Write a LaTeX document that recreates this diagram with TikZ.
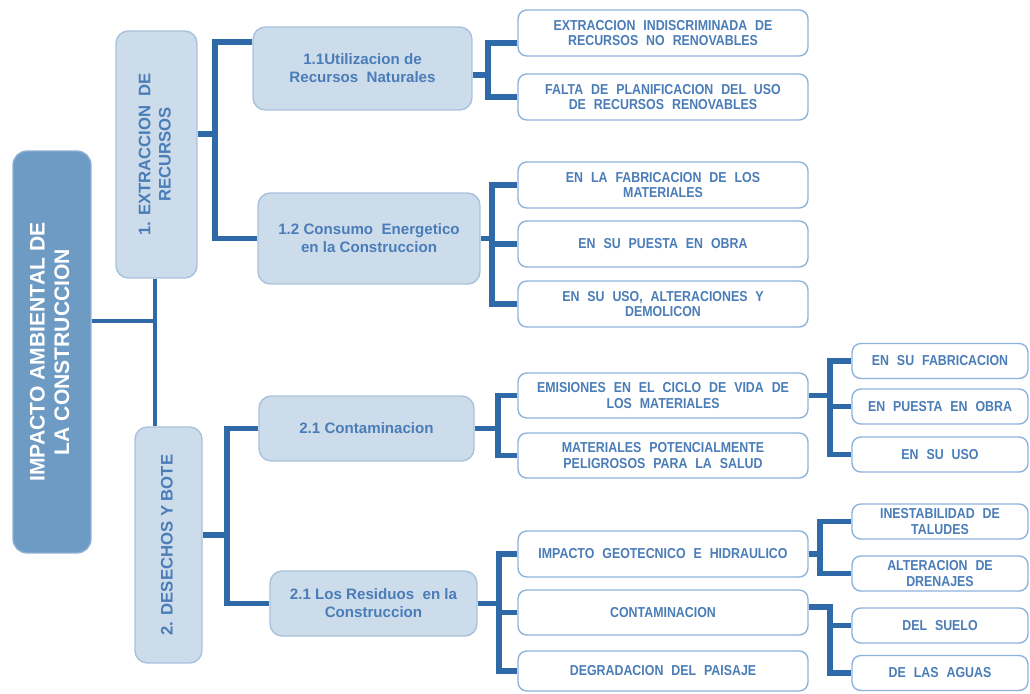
\documentclass[tikz,border=0pt]{standalone}
\usepackage{fontspec}
\setmainfont{Liberation Sans}
\newfontfamily\narrowfont{Liberation Sans}[FakeStretch=0.86]
\usepackage{graphicx}
\usepackage{xcolor}
\usepackage{tikz}
\usetikzlibrary{calc}

\definecolor{rootblue}{HTML}{6E9BC4}
\definecolor{rootedge}{HTML}{8DB0D3}
\definecolor{paleblue}{HTML}{CDDCEB}
\definecolor{paleedge}{HTML}{A7C1DD}
\definecolor{textblue}{HTML}{4A7DB8}
\definecolor{leafedge}{HTML}{8DB3DC}
\definecolor{linkblue}{HTML}{2E6AA8}

\newcommand{\leaffont}{\narrowfont\bfseries\fontsize{8.2}{9}\selectfont\spaceskip=0.55em plus 0.1em\relax}
\newcommand{\vtext}[1]{\rotatebox{90}{\begin{tabular}{@{}c@{}}#1\end{tabular}}}

\tikzset{
	rootnode/.style={rectangle, rounded corners=8pt, fill=rootblue, draw=rootedge, thick, text=white, inner sep=0pt, minimum width=1.56cm, minimum height=8.04cm, font=\bfseries\fontsize{12}{14}\selectfont},
	mainnode/.style={rectangle, rounded corners=7pt, fill=paleblue, draw=paleedge, thick, text=textblue, inner sep=0pt, font=\bfseries\fontsize{9.5}{11.5}\selectfont},
	subnode/.style={rectangle, rounded corners=7pt, fill=paleblue, draw=paleedge, thick, text=textblue, inner sep=0pt, align=center, font=\bfseries\fontsize{8.6}{10.2}\selectfont},
	leafnode/.style={rectangle, rounded corners=5pt, fill=white, draw=leafedge, thick, text=textblue, inner sep=0pt, align=center, minimum width=5.8cm, minimum height=0.92cm, font=\leaffont},
	smallleaf/.style={leafnode, minimum width=3.52cm, minimum height=0.70cm},
	link/.style={draw=linkblue, line width=3.3pt},
	trunk/.style={draw=linkblue, line width=2.5pt}
}

\begin{document}
\begin{tikzpicture}[x=0.02cm, y=-0.02cm]
	\useasboundingbox (0,0) rectangle (1030,693);
	
	\node[rootnode] at (52,352) (root) {\vtext{IMPACTO AMBIENTAL DE\\LA CONSTRUCCION}};
	\node[mainnode, minimum width=1.62cm, minimum height=4.94cm] at (156.5,154.5) (extr) {\vtext{1. EXTRACCION\ \ DE\\RECURSOS}};
	\node[mainnode, minimum width=1.34cm, minimum height=4.72cm] at (168.5,545) (dese) {\vtext{2. DESECHOS Y BOTE}};
	
	\node[subnode, minimum width=4.38cm, minimum height=1.66cm] at (362.5,68.5) (util) {1.1Utilizacion de\\Recursos\ \ Naturales};
	\node[subnode, minimum width=4.44cm, minimum height=1.82cm] at (369,238.5) (cons) {1.2 Consumo\ \ Energetico\\en la Construccion};
	\node[subnode, minimum width=4.30cm, minimum height=1.30cm] at (366.5,428.5) (cont) {2.1 Contaminacion};
	\node[subnode, minimum width=4.14cm, minimum height=1.30cm] at (373.5,603.5) (resi) {2.1 Los Residuos\ \ en la\\Construccion};
	
	\node[leafnode] at (663,33) (extind) {EXTRACCION INDISCRIMINADA DE\\RECURSOS NO RENOVABLES};
	\node[leafnode] at (663,97) (falta) {FALTA DE PLANIFICACION DEL USO\\DE RECURSOS RENOVABLES};
	\node[leafnode] at (663,185) (fabr) {EN LA FABRICACION DE LOS\\MATERIALES};
	\node[leafnode] at (663,244) (puesta) {EN SU PUESTA EN OBRA};
	\node[leafnode] at (663,304) (uso) {EN SU USO, ALTERACIONES Y\\DEMOLICON};
	\node[leafnode, minimum height=0.90cm] at (663,395.5) (emis) {EMISIONES EN EL CICLO DE VIDA DE\\LOS MATERIALES};
	\node[leafnode, minimum height=0.90cm] at (663,455.5) (peli) {MATERIALES POTENCIALMENTE\\PELIGROSOS PARA LA SALUD};
	\node[leafnode] at (663,554) (geot) {IMPACTO GEOTECNICO E HIDRAULICO};
	\node[leafnode, minimum height=0.90cm] at (663,612.5) (contam) {CONTAMINACION};
	\node[leafnode, minimum height=0.80cm] at (663,671) (degr) {DEGRADACION DEL PAISAJE};
	
	\node[smallleaf] at (940,361) (efab) {EN SU FABRICACION};
	\node[smallleaf] at (940,406.5) (eobra) {EN PUESTA EN OBRA};
	\node[smallleaf] at (940,454.5) (euso) {EN SU USO};
	\node[smallleaf] at (940,521.5) (talud) {INESTABILIDAD DE\\TALUDES};
	\node[smallleaf] at (940,573.5) (drena) {ALTERACION DE\\DRENAJES};
	\node[smallleaf] at (940,625.5) (suelo) {DEL SUELO};
	\node[smallleaf] at (940,673) (aguas) {DE LAS AGUAS};
	
	% trunk
	\coordinate (t0) at (155,321);
	\draw[trunk] (root.east |- t0) -- (t0);
	\draw[trunk] (extr.south -| t0) -- (dese.north -| t0);
	
	% first level
	\coordinate (b1) at (215,134);
	\draw[link] (extr.east |- b1) -- (b1);
	\draw[link] ([yshift=0.53cm]util.west) -| (b1) |- (cons.west);
	\coordinate (b2) at (227,535);
	\draw[link] (dese.east |- b2) -- (b2);
	\draw[link] (cont.west) -| (b2) |- (resi.west);
	
	% second level
	\coordinate (b3) at (488,75);
	\draw[link] (util.east |- b3) -- (b3);
	\draw[link] ([yshift=-0.2cm]extind.west) -| (b3) |- (falta.west);
	\coordinate (b4) at (492,242);
	\draw[link] (cons.east) -- (cons.east -| b4);
	\draw[link] (fabr.west) -| (b4) |- (uso.west);
	\draw[link] (puesta.west) -- (puesta.west -| b4);
	\coordinate (b5) at (498,431);
	\draw[link] (cont.east) -- (cont.east -| b5);
	\draw[link] (emis.west) -| (b5) |- (peli.west);
	\coordinate (b7) at (499,602);
	\draw[link] (resi.east) -- (resi.east -| b7);
	\draw[link] (geot.west) -| (b7) |- (degr.west);
	\draw[link] (contam.west) -- (contam.west -| b7);
	
	% third level
	\coordinate (b6) at (830,402);
	\draw[link] (emis.east) -- (emis.east -| b6);
	\draw[link] (efab.west) -| (b6) |- (euso.west);
	\draw[link] (eobra.west) -- (eobra.west -| b6);
	\coordinate (b8) at (820,552);
	\draw[link] (geot.east) -- (geot.east -| b8);
	\draw[link] (talud.west) -| (b8) |- (drena.west);
	\coordinate (b9) at (830,607);
	\draw[link] (contam.east |- b9) -- (b9) |- (aguas.west);
	\draw[link] (suelo.west) -- (suelo.west -| b9);
\end{tikzpicture}
\end{document}
